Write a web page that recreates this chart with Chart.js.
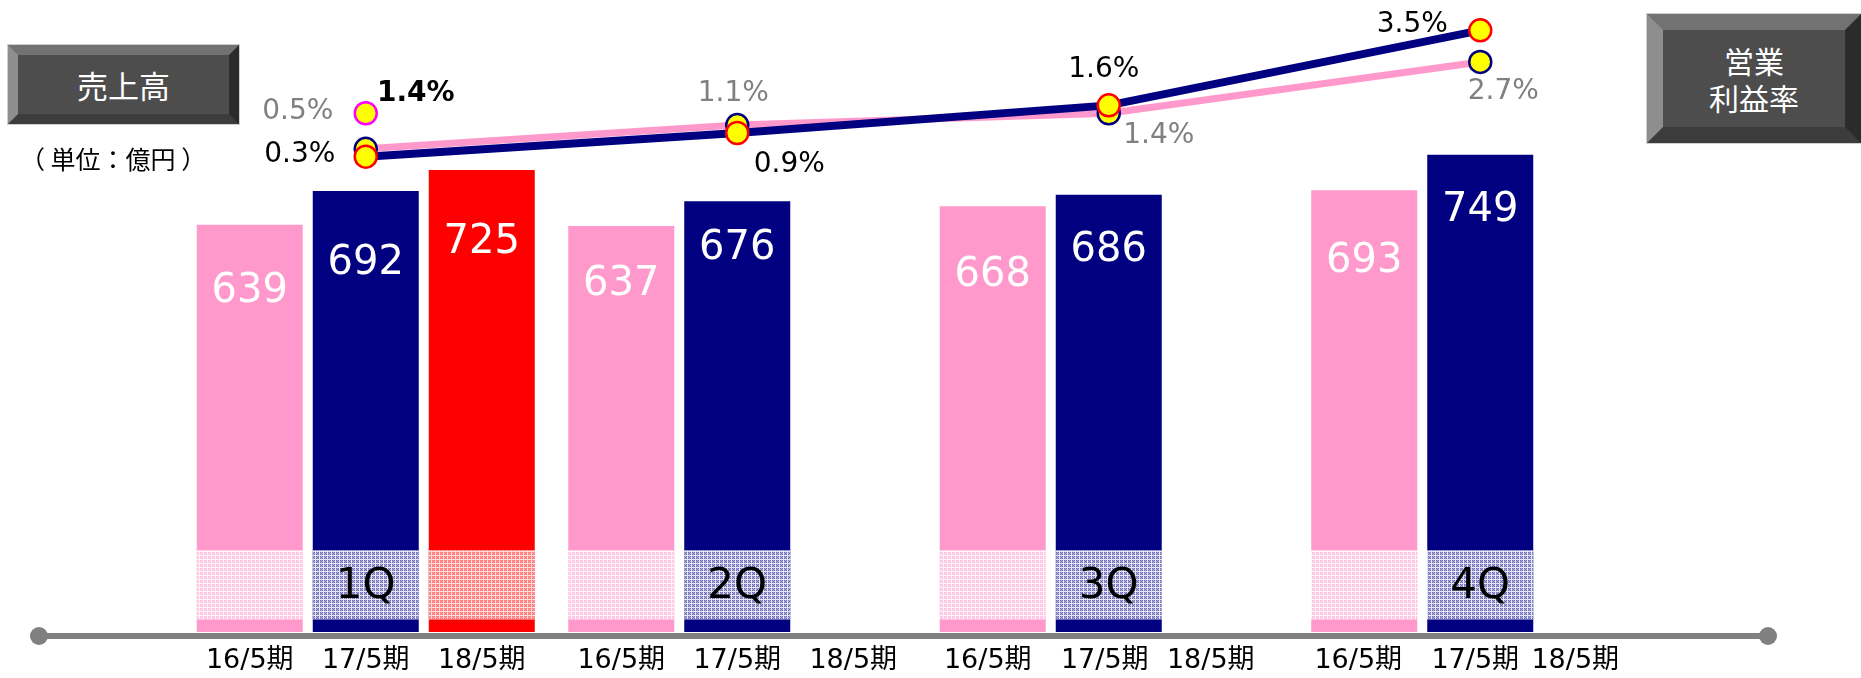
<!DOCTYPE html>
<html>
<head>
<meta charset="utf-8">
<script src="https://cdn.jsdelivr.net/npm/chart.js@4/dist/chart.umd.min.js"></script>
<style>
  html, body { margin:0; padding:0; background:#fff; }
  #wrap { position:relative; width:1861px; height:678px; overflow:hidden; }
  #c { position:absolute; left:0; top:0; }
  .box { position:absolute; box-sizing:border-box; background:#4d4d4d; border-style:solid;
         border-top-color:#727272; border-left-color:#8e8e8e; border-bottom-color:#3c3c3c; border-right-color:#2b2b2b;
         outline:1px solid #cfcfcf; color:#fff; display:flex; align-items:center; justify-content:center;
         text-align:center; font-family:"Noto Sans CJK JP","Noto Sans CJK SC",sans-serif; }
  #unit { position:absolute; left:20px; top:141px; font-family:"Noto Sans CJK JP",sans-serif; font-size:25px; color:#000; white-space:pre; line-height:34px; }
</style>
</head>
<body>
<div id="wrap">
  <canvas id="c" width="1861" height="678"></canvas>
  <div class="box" style="left:8px;top:45px;width:231px;height:79px;border-width:10px;font-size:31px;">売上高</div>
  <div class="box" style="left:1647px;top:14px;width:214px;height:129px;border-width:16px;font-size:30px;line-height:37px;">営業<br>利益率</div>
  <div id="unit">（ 単位：億円 ）</div>
</div>
<script>
// ---- data ----
const categories = ['1Q', '2Q', '3Q', '4Q'];
const periods = ['16/5期', '17/5期', '18/5期'];
const sales16 = [639, 637, 668, 693];
const sales17 = [692, 676, 686, 749];
const sales18 = [725, null, null, null];
const margin16 = [0.5, 1.1, 1.4, 2.7];
const margin17 = [0.3, 0.9, 1.6, 3.5];
const margin18 = [1.4, null, null, null];

// ---- styles ----
const PINK = '#FF99CC', NAVY = '#000080', RED = '#FF0000';
const barLabelDy = [[67, 59, 69, 71], [73, 47, 56, 56], [73, 0, 0, 0]];
const m16Off = [[-68, -37], [-4, -31], [50, 22], [23, 30]];
const m17Off = [[-66, -2], [52, 32], [-5, -36], [-68, -6]];
const m18Off = [[50, -20]];
const periodDx = [[0, 0, 0], [0, 0, 0], [-5, -4, -14], [-6, -5, -21]];
const CAT_PCT = 0.9368, BAR_PCT = 0.9138;
const HATCH_FROM = 20, HATCH_TO = 128; // value range of the hatched band

function makePattern(base, dot, line) {
  const t = document.createElement('canvas');
  t.width = 4; t.height = 4;
  const g = t.getContext('2d');
  for (let y = 0; y < 4; y++) for (let x = 0; x < 4; x++) {
    g.fillStyle = (x === 3 || y === 3) ? line : ((x + y) % 2 === 0 ? dot : base);
    g.fillRect(x, y, 1, 1);
  }
  return document.getElementById('c').getContext('2d').createPattern(t, 'repeat');
}
const patterns = [
  makePattern('#ffd4ea', '#ffc0e0', '#fff4fa'),
  makePattern('#a8a8d8', '#6c6cb8', '#e6e6f4'),
  makePattern('#ff9c9c', '#ff7070', '#ffdcdc')
];

const deco = {
  id: 'deco',
  afterDatasetsDraw(chart) {
    const ctx = chart.ctx;
    const xs = chart.scales.x, ys = chart.scales.y;
    const catW = xs.width / categories.length;
    const slot = catW * CAT_PCT / 3;
    ctx.save();
    // hatched band + bar value labels
    [0, 1, 2].forEach(k => {
      const meta = chart.getDatasetMeta(k);
      meta.data.forEach((bar, i) => {
        const v = chart.data.datasets[k].data[i];
        if (v === null || v === undefined) return;
        const w = bar.width;
        const yTop = ys.getPixelForValue(HATCH_TO), yBot = ys.getPixelForValue(HATCH_FROM);
        ctx.fillStyle = '#ffffff';
        ctx.fillRect(bar.x - w / 2, yTop, w, yBot - yTop);
        ctx.fillStyle = patterns[k];
        ctx.fillRect(bar.x - w / 2, yTop, w, yBot - yTop);
        ctx.fillStyle = '#ffffff';
        ctx.font = '40px "DejaVu Sans"';
        ctx.textAlign = 'center'; ctx.textBaseline = 'middle';
        ctx.fillText(String(v), bar.x, bar.y + barLabelDy[k][i]);
      });
    });
    // quarter labels
    ctx.fillStyle = '#000';
    ctx.font = '42px "DejaVu Sans"';
    ctx.textAlign = 'center'; ctx.textBaseline = 'middle';
    categories.forEach((c, i) => {
      const yTop = ys.getPixelForValue(HATCH_TO), yBot = ys.getPixelForValue(HATCH_FROM);
      ctx.fillText(c, xs.getPixelForValue(i), (yTop + yBot) / 2 + 2);
    });
    // axis line
    const yAx = ys.getPixelForValue(0) + 4;
    ctx.strokeStyle = '#808080'; ctx.lineWidth = 6;
    ctx.beginPath(); ctx.moveTo(39, yAx); ctx.lineTo(1768, yAx); ctx.stroke();
    ctx.fillStyle = '#808080';
    [39, 1768].forEach(x => { ctx.beginPath(); ctx.arc(x, yAx, 9, 0, Math.PI * 2); ctx.fill(); });
    // period labels
    ctx.fillStyle = '#000';
    ctx.font = '27px "DejaVu Sans", "Noto Sans CJK JP"';
    categories.forEach((c, i) => {
      periods.forEach((p, k) => {
        ctx.fillText(p, xs.getPixelForValue(i) + (k - 1) * slot + periodDx[i][k], yAx + 25);
      });
    });
    // margin labels
    const drawLabels = (dsIndex, arr, offs, color, bold) => {
      const meta = chart.getDatasetMeta(dsIndex);
      ctx.fillStyle = color;
      ctx.font = (bold ? 'bold ' : '') + '28px "DejaVu Sans"';
      arr.forEach((v, i) => {
        if (v === null) return;
        const pt = meta.data[i];
        ctx.fillText(v.toFixed(1) + '%', pt.x + offs[i][0], pt.y + offs[i][1]);
      });
    };
    drawLabels(3, margin16, m16Off, '#808080', false);
    drawLabels(4, margin17, m17Off, '#000000', false);
    drawLabels(5, margin18, m18Off, '#000000', true);
    ctx.restore();
  }
};

new Chart(document.getElementById('c'), {
  type: 'bar',
  data: {
    labels: categories,
    datasets: [
      { label: periods[0], data: sales16, backgroundColor: PINK, yAxisID: 'y', order: 10, categoryPercentage: CAT_PCT, barPercentage: BAR_PCT },
      { label: periods[1], data: sales17, backgroundColor: NAVY, yAxisID: 'y', order: 10, categoryPercentage: CAT_PCT, barPercentage: BAR_PCT },
      { label: periods[2], data: sales18, backgroundColor: RED, yAxisID: 'y', order: 10, categoryPercentage: CAT_PCT, barPercentage: BAR_PCT },
      { type: 'line', label: periods[0] + ' 営業利益率', data: margin16, yAxisID: 'y2', order: 3,
        borderColor: PINK, borderWidth: 7, pointRadius: 11, pointBorderWidth: 2.5,
        pointBackgroundColor: '#FFFF00', pointBorderColor: NAVY, tension: 0 },
      { type: 'line', label: periods[1] + ' 営業利益率', data: margin17, yAxisID: 'y2', order: 1,
        borderColor: NAVY, borderWidth: 8, pointRadius: 11, pointBorderWidth: 2.5,
        pointBackgroundColor: '#FFFF00', pointBorderColor: RED, tension: 0 },
      { type: 'line', label: periods[2] + ' 営業利益率', data: margin18, yAxisID: 'y2', order: 2, showLine: false,
        pointRadius: 11, pointBorderWidth: 2.5, pointBackgroundColor: '#FFFF00', pointBorderColor: '#FF00FF' }
    ]
  },
  options: {
    responsive: false,
    animation: false,
    devicePixelRatio: 1,
    layout: { padding: { left: 180, right: 195, top: 10, bottom: 46 } },
    plugins: { legend: { display: false }, tooltip: { enabled: false } },
    scales: {
      x: { display: false, offset: true, grid: { display: false } },
      y: { display: false, min: 0, max: 970.5, grid: { display: false } },
      y2: { display: false, min: -11.74, max: 3.927, grid: { display: false } }
    }
  },
  plugins: [deco]
});
</script>
</body>
</html>
